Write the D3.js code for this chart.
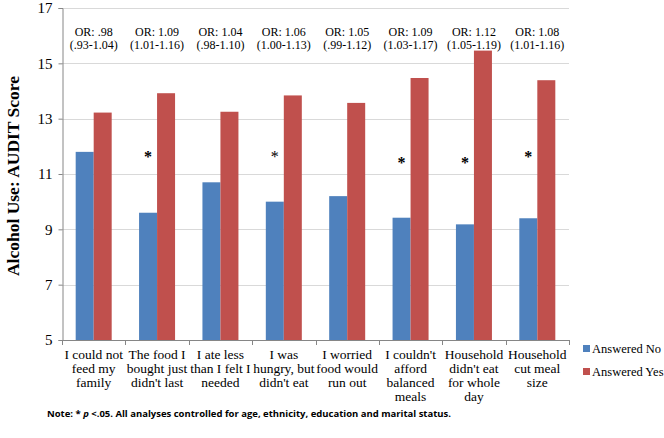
<!DOCTYPE html>
<html>
<head>
<meta charset="utf-8">
<script src="https://cdn.jsdelivr.net/npm/d3@7"></script>
<style>
  body { margin: 0; background: #fff; }
  svg { display: block; }
  text { font-family: "Liberation Serif", "DejaVu Serif", serif; fill: #000; }
</style>
</head>
<body>
<svg width="664" height="438"></svg>
<script>
// chart data
var categories = [
  ['I could not', 'feed my', 'family'],
  ['The food I', 'bought just', "didn't last"],
  ['I ate less', 'than I felt I', 'needed'],
  ['I was', 'hungry, but', "didn't eat"],
  ['I worried', 'food would', 'run out'],
  ["I couldn't", 'afford', 'balanced', 'meals'],
  ['Household', "didn't eat", 'for whole', 'day'],
  ['Household', 'cut meal', 'size']
];
var answeredNo  = [11.8, 9.6, 10.7, 10.0, 10.2, 9.42, 9.18, 9.4];
var answeredYes = [13.22, 13.92, 13.25, 13.84, 13.57, 14.47, 15.46, 14.39];
var orValues = ['OR: .98', 'OR: 1.09', 'OR: 1.04', 'OR: 1.06', 'OR: 1.05', 'OR: 1.09', 'OR: 1.12', 'OR: 1.08'];
var orRanges = ['(.93-1.04)', '(1.01-1.16)', '(.98-1.10)', '(1.00-1.13)', '(.99-1.12)', '(1.03-1.17)', '(1.05-1.19)', '(1.01-1.16)'];
var stars = ['', '*', '', '*', '', '*', '*', '*'];
var yTicks = [5, 7, 9, 11, 13, 15, 17];
var seriesNames = ['Answered No', 'Answered Yes'];
var colors = ['#4F81BD', '#C0504D'];

var svg = d3.select('svg'),
    plotL = 62, plotR = 569, plotT = 8, plotB = 340;

var x = d3.scaleBand()
    .domain(d3.range(categories.length))
    .range([plotL, plotR]);

var y = d3.scaleLinear()
    .domain([5, 17])
    .range([plotB, plotT]);

var barW = 18;

// gridlines
svg.append('g')
  .selectAll('line')
  .data(yTicks)
  .enter()
  .append('line')
  .attr('x1', plotL).attr('x2', plotR)
  .attr('y1', function(d){ return Math.round(y(d)) + 0.5; })
  .attr('y2', function(d){ return Math.round(y(d)) + 0.5; })
  .attr('stroke', '#d9d9d9');

// y axis
var yAxis = svg.append('g')
  .attr('transform', 'translate(' + (plotL + 0.5) + ',0)')
  .call(d3.axisLeft(y).tickValues(yTicks).tickSize(4).tickPadding(6).tickFormat(d3.format('d')));
yAxis.select('.domain').attr('stroke', '#868686');
yAxis.selectAll('.tick line').attr('stroke', '#868686');
yAxis.selectAll('.tick text')
  .style('font-family', '"Liberation Serif", serif')
  .style('font-size', '15px')
  .attr('fill', '#000');

// bars
var groups = svg.append('g')
  .selectAll('g')
  .data(categories)
  .enter()
  .append('g');

groups.append('rect')
  .attr('x', function(d, i){ return x(i) + x.bandwidth()/2 - barW; })
  .attr('y', function(d, i){ return y(answeredNo[i]); })
  .attr('width', barW)
  .attr('height', function(d, i){ return y(5) - y(answeredNo[i]); })
  .attr('fill', colors[0]);

groups.append('rect')
  .attr('x', function(d, i){ return x(i) + x.bandwidth()/2; })
  .attr('y', function(d, i){ return y(answeredYes[i]); })
  .attr('width', barW)
  .attr('height', function(d, i){ return y(5) - y(answeredYes[i]); })
  .attr('fill', colors[1]);

// x axis line and ticks
svg.append('line')
  .attr('x1', plotL).attr('x2', plotR)
  .attr('y1', plotB + 0.5).attr('y2', plotB + 0.5)
  .attr('stroke', '#868686');

svg.append('g')
  .selectAll('line')
  .data(d3.range(categories.length + 1))
  .enter()
  .append('line')
  .attr('x1', function(d){ return Math.round(plotL + d * x.step()) + 0.5; })
  .attr('x2', function(d){ return Math.round(plotL + d * x.step()) + 0.5; })
  .attr('y1', plotB)
  .attr('y2', plotB + 5)
  .attr('stroke', '#868686');

// category labels
groups.append('text')
  .attr('text-anchor', 'middle')
  .style('font-size', '13.5px')
  .selectAll('tspan')
  .data(function(d, i){ return d.map(function(l){ return {l: l, i: i}; }); })
  .enter()
  .append('tspan')
  .attr('x', function(d){ return x(d.i) + x.bandwidth()/2; })
  .attr('y', function(d, j){ return 359 + j * 14; })
  .text(function(d){ return d.l; });

// OR labels
groups.append('text')
  .attr('text-anchor', 'middle')
  .attr('x', function(d, i){ return x(i) + x.bandwidth()/2; })
  .attr('y', 36)
  .style('font-size', '12px')
  .text(function(d, i){ return orValues[i]; });

groups.append('text')
  .attr('text-anchor', 'middle')
  .attr('x', function(d, i){ return x(i) + x.bandwidth()/2; })
  .attr('y', 49)
  .style('font-size', '12px')
  .text(function(d, i){ return orRanges[i]; });

// significance stars
groups.append('text')
  .attr('text-anchor', 'middle')
  .attr('x', function(d, i){ return x(i) + x.bandwidth()/2 - barW/2; })
  .attr('y', function(d, i){ return i >= 5 && i <= 6 ? 168 : 162; })
  .style('font-size', '16px')
  .style('font-weight', function(d, i){ return i === 3 ? 'normal' : 'bold'; })
  .attr('fill', function(d, i){ return i === 3 ? '#444' : '#000'; })
  .text(function(d, i){ return stars[i]; });

// y axis title
svg.append('text')
  .attr('transform', 'translate(19,' + ((plotT + plotB)/2 + 2) + ') rotate(-90)')
  .attr('text-anchor', 'middle')
  .style('font-size', '17.5px')
  .style('font-weight', 'bold')
  .text('Alcohol Use: AUDIT Score');

// legend
var legend = svg.append('g')
  .selectAll('g')
  .data(seriesNames)
  .enter()
  .append('g')
  .attr('transform', function(d, i){ return 'translate(583,' + (346 + i * 23) + ')'; });

legend.append('rect')
  .attr('width', 7).attr('height', 7)
  .attr('y', -1)
  .attr('fill', function(d, i){ return colors[i]; });

legend.append('text')
  .attr('x', 9)
  .attr('y', 7)
  .style('font-size', '12.5px')
  .text(function(d){ return d; });

// note
var note = svg.append('text')
  .attr('x', 47)
  .attr('y', 417)
  .attr('textLength', 404)
  .attr('lengthAdjust', 'spacingAndGlyphs')
  .style('font-family', '"Open Sans", "Liberation Sans", sans-serif')
  .style('font-size', '9.5px')
  .style('font-weight', 'bold');
note.append('tspan').text('Note: * ');
note.append('tspan').style('font-style', 'italic').text('p');
note.append('tspan').text(' <.05. All analyses controlled for age, ethnicity, education and marital status.');
</script>
</body>
</html>
